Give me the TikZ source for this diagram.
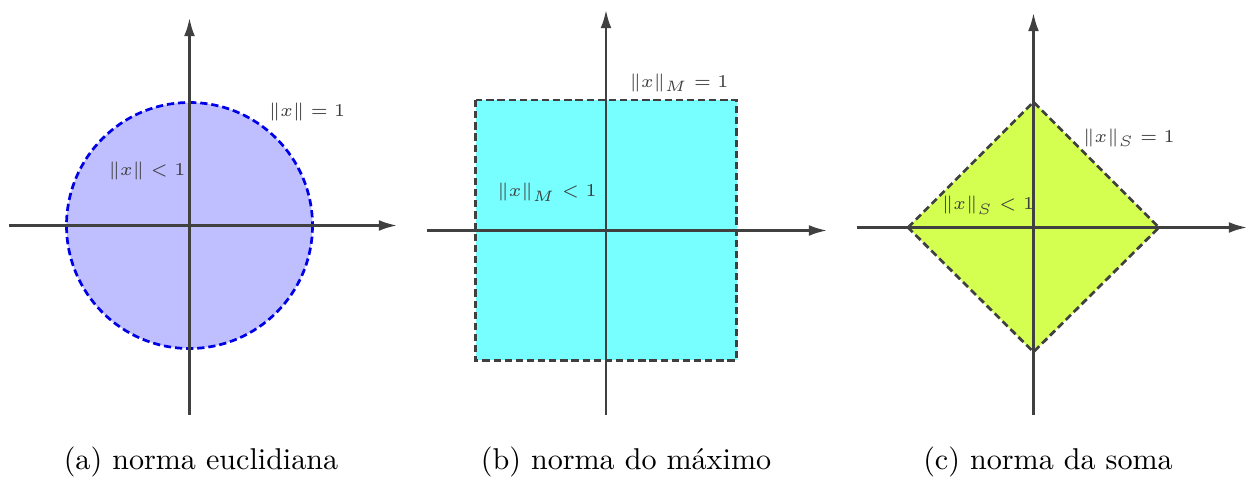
\documentclass[tikz,border=0pt]{standalone}
\usepackage{amsmath,amssymb}
\usepackage{xcolor}
\usetikzlibrary{arrows.meta}
\definecolor{axgray}{RGB}{64,64,64}
\definecolor{lblgray}{RGB}{60,60,60}
\definecolor{eucfill}{RGB}{191,191,255}
\definecolor{eucline}{RGB}{0,0,230}
\definecolor{maxfill}{RGB}{119,255,255}
\definecolor{somfill}{RGB}{212,255,80}
\tikzset{
  ax/.style={draw=axgray,line width=0.75pt,-{Latex[length=6pt,width=3.6pt]}},
  bdr/.style={line width=0.9pt,dash pattern=on 2.4pt off 1.3pt},
  lbl/.style={anchor=base,text=lblgray,inner sep=0pt,font=\fontsize{6.2}{7.5}\selectfont},
  capt/.style={anchor=base,inner sep=0pt}
}
\newcommand{\nrm}[1]{\|x\|_{#1}}
\newcommand{\axes}[5]{\draw[ax] (#2) -- (#3); \draw[ax] (#4) -- (#5);}

\begin{document}
\begin{tikzpicture}[x=0.01168cm,y=-0.01168cm]
\useasboundingbox (0,0) rectangle (1253,477);
% (a) euclidean ball
\coordinate (oA) at (189.5,225.5);
\fill[eucfill] (oA) circle (123);
\draw[bdr,draw=eucline] (oA) circle (123);
\coordinate (aW) at (9,225.5); \coordinate (aE) at (397,225.5);
\coordinate (aS) at (189.5,415); \coordinate (aN) at (189.5,18);
\axes{oA}{aW}{aE}{aS}{aN}
\node[lbl] (aEq) at (307,117) {$\|x\|=1$};
\node[lbl] (aLt) at (147,176) {$\|x\|<1$};
\node[capt] (aCap) at (201,470) {(a) norma euclidiana};
% (b) maximum ball
\coordinate (oB) at (606,230.5);
\fill[maxfill] (475.5,100) rectangle (736.5,360.5);
\draw[bdr,draw=axgray] (475.5,100) rectangle (736.5,360.5);
\coordinate (bW) at (427,230.5); \coordinate (bE) at (827,230.5);
\coordinate (bS) at (606,415); \coordinate (bN) at (606,10);
\axes{oB}{bW}{bE}{bS}{bN}
\node[lbl] (bEq) at (679,87.5) {$\nrm{M}=1$};
\node[lbl] (bLt) at (547,197) {$\nrm{M}<1$};
\node[capt] (bCap) at (626,470) {(b) norma do máximo};
% (c) sum ball
\coordinate (oC) at (1033.5,227.5);
\fill[somfill] (908,227.5) -- (1033.5,102) -- (1159,227.5) -- (1033.5,352) -- cycle;
\draw[bdr,draw=axgray] (908,227.5) -- (1033.5,102) -- (1159,227.5) -- (1033.5,352) -- cycle;
\coordinate (cW) at (857,227.5); \coordinate (cE) at (1247,227.5);
\coordinate (cS) at (1033.5,415); \coordinate (cN) at (1033.5,13);
\axes{oC}{cW}{cE}{cS}{cN}
\node[lbl] (cEq) at (1129,142.5) {$\nrm{S}=1$};
\node[lbl] (cLt) at (988,210) {$\nrm{S}<1$};
\node[capt] (cCap) at (1048,470) {(c) norma da soma};
\end{tikzpicture}
\end{document}
